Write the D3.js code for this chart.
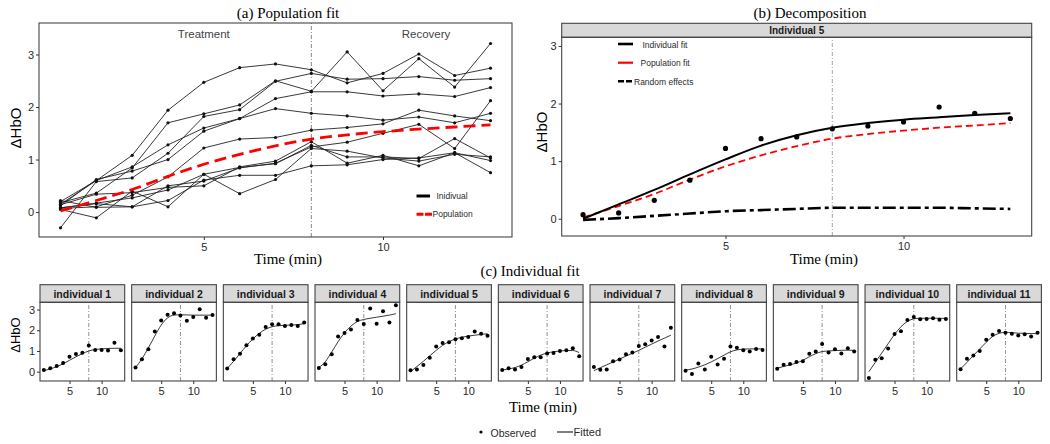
<!DOCTYPE html>
<html><head><meta charset="utf-8">
<script src="https://cdn.jsdelivr.net/npm/d3@7"></script>
<style>body{margin:0;background:#fff}svg{display:block}</style>
</head><body><svg id="c" width="1050" height="444"></svg>
<script>
// ---------------- DATA ----------------
const times = [1,2,3,4,5,6,7,8,9,10,11,12,13];
const xTicks = [5,10];
const yTicks = [0,1,2,3];
const individualLabels = ["individual 1","individual 2","individual 3","individual 4","individual 5","individual 6","individual 7","individual 8","individual 9","individual 10","individual 11"];

// observed ΔHbO per individual
const obs1  = [0.08,0.17,0.27,0.42,0.72,0.85,0.92,1.27,1.05,1.05,1.02,1.40,1.03];
const obs2  = [0.20,0.60,1.08,1.94,2.47,2.75,2.82,2.71,2.46,2.64,3.01,2.60,2.74];
const obs3  = [0.15,0.60,0.86,1.28,1.60,1.78,2.16,2.29,2.29,2.21,2.25,2.20,2.37];
const obs4  = [0.18,0.36,0.84,1.70,1.87,2.04,2.50,2.30,3.05,2.31,2.92,2.38,3.21];
const obs5  = [0.07,0.10,0.32,0.67,1.22,1.39,1.42,1.56,1.61,1.68,1.94,1.83,1.74];
const obs6  = [0.08,0.16,0.10,0.22,0.61,0.70,0.70,0.88,0.90,1.00,1.03,1.13,0.75];
const obs7  = [0.22,0.09,0.10,0.50,0.59,0.84,0.93,1.24,1.33,1.50,1.67,1.21,2.12];
const obs8  = [0.05,-0.11,0.40,0.10,0.72,0.35,0.62,1.21,1.16,1.03,0.97,1.10,1.05];
const obs9  = [0.14,0.34,0.37,0.47,0.50,0.86,0.97,1.34,0.93,1.08,0.88,1.13,0.98];
const obs10 = [-0.30,0.58,0.65,1.12,1.82,1.95,2.49,2.64,2.53,2.54,2.58,2.51,2.54];
const obs11 = [0.12,0.62,0.78,1.00,1.54,1.78,1.97,1.88,1.83,1.75,1.81,1.70,1.88];

// fitted ΔHbO per individual
const fit1  = [0.05,0.13,0.24,0.38,0.55,0.72,0.87,1.00,1.07,1.10,1.12,1.13,1.13];
const fit2  = [0.20,0.62,1.15,1.72,2.25,2.60,2.73,2.75,2.74,2.73,2.73,2.73,2.73];
const fit3  = [0.15,0.50,0.88,1.25,1.58,1.85,2.05,2.17,2.22,2.24,2.25,2.27,2.32];
const fit4  = [0.20,0.48,0.95,1.45,1.88,2.20,2.42,2.52,2.58,2.63,2.68,2.73,2.80];
const fit5  = [0.00,0.25,0.50,0.77,1.03,1.27,1.45,1.58,1.66,1.72,1.76,1.80,1.83];
const fit6  = [0.08,0.13,0.20,0.32,0.48,0.65,0.80,0.90,0.96,1.00,1.02,1.02,0.92];
const fit7  = [0.05,0.19,0.33,0.47,0.61,0.75,0.89,1.03,1.18,1.33,1.48,1.62,1.76];
const fit8  = [0.08,0.13,0.22,0.33,0.47,0.63,0.80,0.96,1.05,1.09,1.10,1.10,1.10];
const fit9  = [0.17,0.25,0.33,0.42,0.55,0.72,0.87,0.97,1.00,1.02,1.03,1.04,1.03];
const fit10 = [0.00,0.45,0.90,1.35,1.80,2.17,2.43,2.55,2.58,2.58,2.58,2.58,2.57];
const fit11 = [0.13,0.45,0.78,1.10,1.42,1.70,1.85,1.90,1.88,1.86,1.85,1.84,1.84];

// population fit and random effects (individual 5)
const popFit = [0.02,0.22,0.43,0.68,0.91,1.10,1.26,1.39,1.47,1.53,1.58,1.62,1.66];
const randomEffects5 = [-0.02,0.01,0.05,0.09,0.13,0.15,0.17,0.19,0.19,0.19,0.19,0.18,0.17];
const phaseLabels = ["Treatment","Recovery"];
const changeTime = 8;

const observed = [obs1,obs2,obs3,obs4,obs5,obs6,obs7,obs8,obs9,obs10,obs11];
const fitted = [fit1,fit2,fit3,fit4,fit5,fit6,fit7,fit8,fit9,fit10,fit11];

// ---------------- DRAW ----------------
const SANS = "'Liberation Sans', Arial, sans-serif";
const SERIF = "'Liberation Serif', 'Times New Roman', serif";
const TXT = "#2b2b2b";
const svg = d3.select("#c");
svg.append("rect").attr("width",1050).attr("height",444).attr("fill","#fff");

function pts(arr){ return arr.map((v,i)=>[times[i],v]); }

function drawAxes(g, x, y, size, showY){
  const ax = g.append("g").attr("transform",`translate(0,${y.range()[0]})`)
    .call(d3.axisBottom(x).tickValues(xTicks).tickSize(3).tickPadding(3).tickFormat(d3.format("d")));
  ax.select(".domain").remove();
  ax.selectAll("line").attr("stroke","#333");
  ax.selectAll("text").attr("fill",TXT).style("font-family",SANS).style("font-size",size+"px");
  if(showY){
    const ay = g.append("g").attr("transform",`translate(${x.range()[0]},0)`)
      .call(d3.axisLeft(y).tickValues(yTicks).tickSize(3).tickPadding(2).tickFormat(d3.format("d")));
    ay.select(".domain").remove();
    ay.selectAll("line").attr("stroke","#333");
    ay.selectAll("text").attr("fill",TXT).style("font-family",SANS).style("font-size",size+"px");
  }
}
function vline(g,x,y,color,w){
  g.append("line").attr("x1",x(changeTime)).attr("x2",x(changeTime))
    .attr("y1",y.range()[0]).attr("y2",y.range()[1])
    .attr("stroke",color).attr("stroke-width",w).attr("stroke-dasharray","4,2,1,2");
}
function border(g,x,y){
  g.append("rect").attr("x",x.range()[0]).attr("y",y.range()[1])
    .attr("width",x.range()[1]-x.range()[0]).attr("height",y.range()[0]-y.range()[1])
    .attr("fill","none").attr("stroke","#444").attr("stroke-width",1.1);
}

// ===== Panel (a) =====
{
  const g = svg.append("g");
  const x = d3.scaleLinear([0.4,13.6],[39,512]);
  const y = d3.scaleLinear([-0.475,3.6],[237,23]);
  vline(g,x,y,"#777",0.9);
  const line = d3.line().x(d=>x(d[0])).y(d=>y(d[1]));
  observed.forEach(o=>{
    g.append("path").attr("d",line(pts(o))).attr("fill","none").attr("stroke","#222").attr("stroke-width",0.9);
    g.selectAll(null).data(pts(o)).join("circle").attr("cx",d=>x(d[0])).attr("cy",d=>y(d[1])).attr("r",1.6).attr("fill","#111");
  });
  g.append("path").attr("d",line.curve(d3.curveMonotoneX)(pts(popFit))).attr("fill","none")
    .attr("stroke","#f00").attr("stroke-width",2.8).attr("stroke-dasharray","12,6");
  border(g,x,y);
  drawAxes(g,x,y,11,true);
  g.append("text").attr("x",x(5)).attr("y",y(3.39)).attr("text-anchor","middle").attr("dominant-baseline","central")
    .style("font-family",SANS).style("font-size","11.5px").attr("fill","#444").text(phaseLabels[0]);
  g.append("text").attr("x",x(11.2)).attr("y",y(3.39)).attr("text-anchor","middle").attr("dominant-baseline","central")
    .style("font-family",SANS).style("font-size","11.5px").attr("fill","#444").text(phaseLabels[1]);
  // legend
  g.append("line").attr("x1",416.5).attr("x2",430).attr("y1",196).attr("y2",196).attr("stroke","#000").attr("stroke-width",3);
  g.append("text").attr("x",436.5).attr("y",196).attr("dominant-baseline","central").style("font-family",SANS).style("font-size","8.5px").attr("fill",TXT).text("Inidivual");
  g.append("line").attr("x1",416.5).attr("x2",432).attr("y1",214.3).attr("y2",214.3).attr("stroke","#f00").attr("stroke-width",3).attr("stroke-dasharray","7,1.5");
  g.append("text").attr("x",432.5).attr("y",214.3).attr("dominant-baseline","central").style("font-family",SANS).style("font-size","8.5px").attr("fill",TXT).text("Population");
  // titles
  g.append("text").attr("x",288).attr("y",13).attr("text-anchor","middle").attr("dominant-baseline","central")
    .style("font-family",SERIF).style("font-size","15px").attr("fill","#000").text("(a) Population fit");
  g.append("text").attr("x",288).attr("y",259).attr("text-anchor","middle").attr("dominant-baseline","central")
    .style("font-family",SERIF).style("font-size","15px").attr("fill","#000").text("Time (min)");
  g.append("text").attr("transform","translate(15,128) rotate(-90)").attr("text-anchor","middle").attr("dominant-baseline","central")
    .style("font-family",SANS).style("font-size","15px").attr("fill","#000").text("ΔHbO");
}

// ===== Panel (b) =====
{
  const g = svg.append("g");
  const x = d3.scaleLinear([0.4,13.6],[561.7,1031.7]);
  const y = d3.scaleLinear([-0.3,3.15],[236,37.3]);
  g.append("rect").attr("x",561.7).attr("y",23.3).attr("width",470).attr("height",14).attr("fill","#d9d9d9").attr("stroke","#444").attr("stroke-width",1.1);
  g.append("text").attr("x",(561.7+1031.7)/2).attr("y",30.5).attr("text-anchor","middle").attr("dominant-baseline","central")
    .style("font-family",SANS).style("font-size","10px").style("font-weight","bold").attr("fill","#1a1a1a").text("Individual 5");
  vline(g,x,y,"#999",0.9);
  const line = d3.line().x(d=>x(d[0])).y(d=>y(d[1])).curve(d3.curveMonotoneX);
  g.append("path").attr("d",line(pts(randomEffects5))).attr("fill","none").attr("stroke","#000").attr("stroke-width",2.6).attr("stroke-dasharray","13,4,4,4");
  g.append("path").attr("d",line(pts(popFit))).attr("fill","none").attr("stroke","#f00").attr("stroke-width",1.8).attr("stroke-dasharray","7,4");
  g.append("path").attr("d",line(pts(fit5))).attr("fill","none").attr("stroke","#000").attr("stroke-width",2);
  g.selectAll(null).data(pts(obs5)).join("circle").attr("cx",d=>x(d[0])).attr("cy",d=>y(d[1])).attr("r",2.6).attr("fill","#000");
  border(g,x,y);
  drawAxes(g,x,y,11,true);
  // legend
  g.append("line").attr("x1",618).attr("x2",633).attr("y1",44).attr("y2",44).attr("stroke","#000").attr("stroke-width",2.6);
  g.append("text").attr("x",642.5).attr("y",44.5).attr("dominant-baseline","central").style("font-family",SANS).style("font-size","8.5px").attr("fill",TXT).text("Individual fit");
  g.append("line").attr("x1",618).attr("x2",633).attr("y1",62.7).attr("y2",62.7).attr("stroke","#f00").attr("stroke-width",2.2);
  g.append("text").attr("x",640.5).attr("y",63.2).attr("dominant-baseline","central").style("font-family",SANS).style("font-size","8.5px").attr("fill",TXT).text("Population fit");
  g.append("line").attr("x1",618).attr("x2",633).attr("y1",81.3).attr("y2",81.3).attr("stroke","#000").attr("stroke-width",2.6).attr("stroke-dasharray","6,2");
  g.append("text").attr("x",634).attr("y",81.8).attr("dominant-baseline","central").style("font-family",SANS).style("font-size","8.5px").attr("fill",TXT).text("Random effects");
  // titles
  g.append("text").attr("x",810).attr("y",13).attr("text-anchor","middle").attr("dominant-baseline","central")
    .style("font-family",SERIF).style("font-size","15px").attr("fill","#000").text("(b) Decomposition");
  g.append("text").attr("x",824).attr("y",259).attr("text-anchor","middle").attr("dominant-baseline","central")
    .style("font-family",SERIF).style("font-size","15px").attr("fill","#000").text("Time (min)");
  g.append("text").attr("transform","translate(541.7,132) rotate(-90)").attr("text-anchor","middle").attr("dominant-baseline","central")
    .style("font-family",SANS).style("font-size","15px").attr("fill","#000").text("ΔHbO");
}

// ===== Panel (c) =====
{
  const g = svg.append("g");
  const y = d3.scaleLinear([-0.45,3.35],[381,302.3]);
  const pitch = 91.67, w = 84.7, left0 = 40;
  individualLabels.forEach((lab,i)=>{
    const L = left0 + i*pitch;
    const x = d3.scaleLinear([0.4,13.6],[L,L+w]);
    const p = g.append("g");
    p.append("rect").attr("x",L).attr("y",284.7).attr("width",w).attr("height",17.6).attr("fill","#d9d9d9").attr("stroke","#444").attr("stroke-width",1.1);
    p.append("text").attr("x",L+w/2).attr("y",293.7).attr("text-anchor","middle").attr("dominant-baseline","central")
      .style("font-family",SANS).style("font-size","10.5px").style("font-weight","bold").attr("fill","#1a1a1a").text(lab);
    vline(p,x,y,"#888",0.9);
    const line = d3.line().x(d=>x(d[0])).y(d=>y(d[1])).curve(d3.curveMonotoneX);
    p.append("path").attr("d",line(pts(fitted[i]))).attr("fill","none").attr("stroke","#222").attr("stroke-width",0.9);
    p.selectAll(null).data(pts(observed[i])).join("circle").attr("cx",d=>x(d[0])).attr("cy",d=>y(d[1])).attr("r",2).attr("fill","#000");
    border(p,x,y);
    drawAxes(p,x,y,11,i===0);
  });
  g.append("text").attr("x",530).attr("y",271).attr("text-anchor","middle").attr("dominant-baseline","central")
    .style("font-family",SERIF).style("font-size","15px").attr("fill","#000").text("(c) Individual fit");
  g.append("text").attr("x",543).attr("y",407).attr("text-anchor","middle").attr("dominant-baseline","central")
    .style("font-family",SERIF).style("font-size","15px").attr("fill","#000").text("Time (min)");
  g.append("text").attr("transform","translate(15,335) rotate(-90)").attr("text-anchor","middle").attr("dominant-baseline","central")
    .style("font-family",SANS).style("font-size","13px").attr("fill","#000").text("ΔHbO");
  // legend
  g.append("circle").attr("cx",481).attr("cy",432).attr("r",1.6).attr("fill","#000");
  g.append("text").attr("x",490.5).attr("y",433).attr("dominant-baseline","central").style("font-family",SANS).style("font-size","10.5px").attr("fill",TXT).text("Observed");
  g.append("line").attr("x1",557).attr("x2",573).attr("y1",432).attr("y2",432).attr("stroke","#000").attr("stroke-width",1);
  g.append("text").attr("x",573.5).attr("y",432).attr("dominant-baseline","central").style("font-family",SANS).style("font-size","11px").attr("fill",TXT).text("Fitted");
}
</script></body></html>
